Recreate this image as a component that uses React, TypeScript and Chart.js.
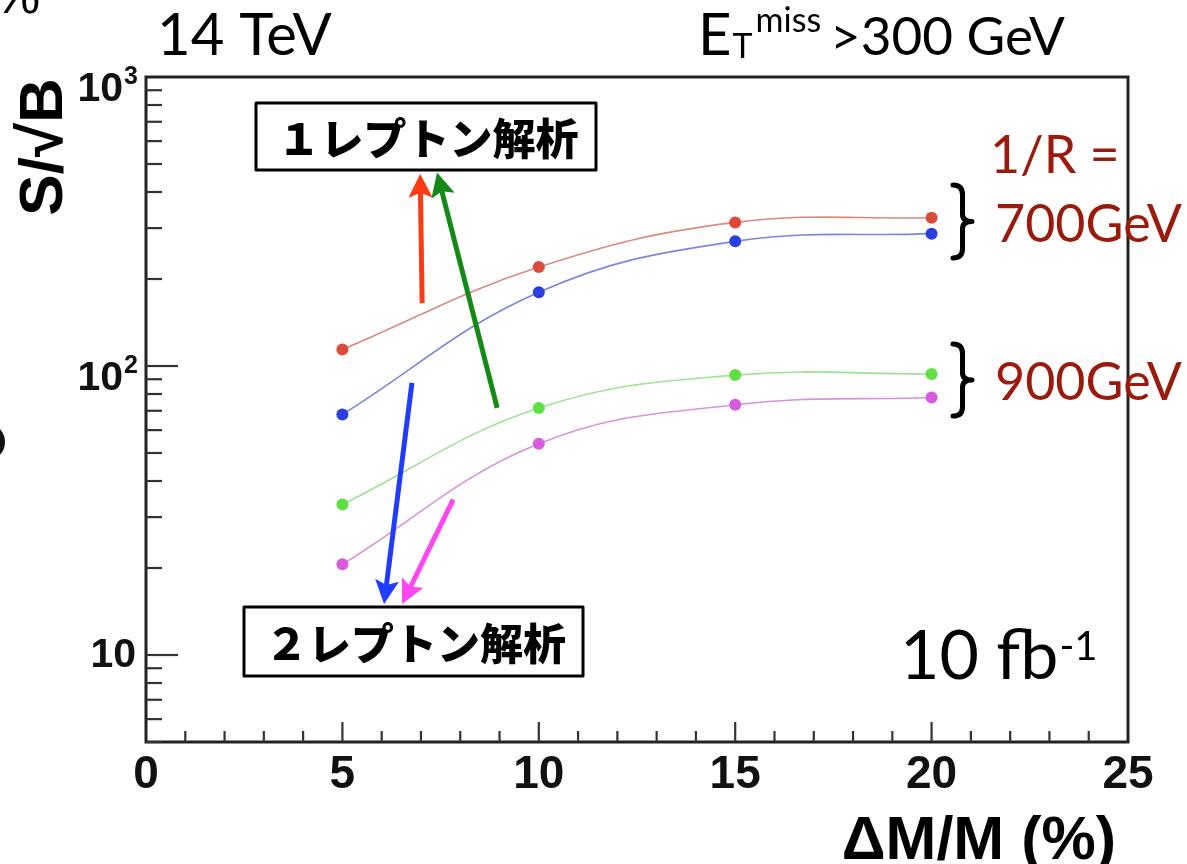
import React, { useEffect, useRef } from "react";
import { Chart, registerables } from "chart.js";

Chart.register(...registerables);

// ---- data ----
const xValues = [5, 10, 15, 20];
const red700 = [114, 220, 314, 326];
const blue700 = [68, 180, 270, 287];
const green900 = [33.2, 71.5, 93, 93.8];
const magenta900 = [20.6, 53.8, 73.4, 77.8];

const xMin = 0;
const xMax = 25;
const yMin = 5;
const yMax = 1000;
const xMajorTicks = [0, 5, 10, 15, 20, 25];
const xTickLabels = ["0", "5", "10", "15", "20", "25"];
const yMajorTicks = [10, 100, 1000];
const yTickBases = ["10", "10", "10"];
const yTickExps = ["", "2", "3"];

// annotation arrows in data coordinates [x, y]
const arrowFrom = [[7.03, 165], [8.94, 71.7], [6.77, 87.4], [7.82, 34.5]];
const arrowTo = [[6.98, 463], [7.41, 467], [6.06, 15.0], [6.52, 15.0]];
const arrowColors = ["#ff3a12", "#148a16", "#1f3cff", "#ff46f2"];

const pointColors = ["#dc4a3c", "#2b3fe0", "#5ee040", "#da5ade"];
const lineColors = ["#dc8a80", "#7d86dc", "#9de394", "#d991dc"];

function makeSet(label: string, vals: number[], i: number) {
  return {
    label,
    data: xValues.map((x, k) => ({ x, y: vals[k] })),
    borderColor: lineColors[i],
    backgroundColor: pointColors[i],
    pointBackgroundColor: pointColors[i],
    pointBorderWidth: 0,
    pointRadius: 6,
    borderWidth: 1.6,
    tension: 0.4,
    fill: false,
  };
}

function drawBrace(ctx: CanvasRenderingContext2D, x0: number, yTop: number, yBot: number, w: number) {
  const h = yBot - yTop;
  const ym = (yTop + yBot) / 2;
  const xm = x0 + w * 0.5;
  ctx.beginPath();
  ctx.moveTo(x0, yTop);
  ctx.quadraticCurveTo(xm, yTop, xm, yTop + h * 0.13);
  ctx.lineTo(xm, ym - h * 0.1);
  ctx.quadraticCurveTo(xm, ym, x0 + w, ym);
  ctx.quadraticCurveTo(xm, ym, xm, ym + h * 0.1);
  ctx.lineTo(xm, yBot - h * 0.13);
  ctx.quadraticCurveTo(xm, yBot, x0, yBot);
  ctx.stroke();
}

const decor = {
  id: "decor",
  afterDraw(chart: any) {
    const ctx: CanvasRenderingContext2D = chart.ctx;
    const a = chart.chartArea;
    const xs = chart.scales.x;
    const ys = chart.scales.y;
    ctx.save();

    // frame
    ctx.strokeStyle = "#222";
    ctx.lineWidth = 3;
    ctx.strokeRect(a.left, a.top, a.right - a.left, a.bottom - a.top);

    // y ticks
    ctx.lineWidth = 2.2;
    ctx.strokeStyle = "#333";
    for (let d = 1; d <= 100; d *= 10) {
      for (let m = 1; m <= 9; m++) {
        const v = m * d;
        if (v < yMin || v >= yMax) continue;
        const py = ys.getPixelForValue(v);
        const len = m === 1 ? 32 : 16;
        ctx.beginPath();
        ctx.moveTo(a.left, py);
        ctx.lineTo(a.left + len, py);
        ctx.stroke();
      }
    }
    // x ticks
    for (let v = xMin + 1; v < xMax; v++) {
      const px = xs.getPixelForValue(v);
      const len = v % 5 === 0 ? 20 : 11;
      ctx.beginPath();
      ctx.moveTo(px, a.bottom);
      ctx.lineTo(px, a.bottom - len);
      ctx.stroke();
    }

    // x tick labels
    ctx.fillStyle = "#111";
    ctx.font = "bold 46px 'Liberation Sans', Arial, sans-serif";
    ctx.textAlign = "center";
    ctx.textBaseline = "alphabetic";
    xMajorTicks.forEach((v, i) => {
      ctx.fillText(xTickLabels[i], xs.getPixelForValue(v), a.bottom + 46);
    });

    // y tick labels
    yMajorTicks.forEach((v, i) => {
      const py = ys.getPixelForValue(v);
      ctx.textAlign = "right";
      if (yTickExps[i] === "") {
        ctx.font = "bold 41px 'Liberation Sans', Arial, sans-serif";
        ctx.fillText(yTickBases[i], a.left - 10, py + 12);
      } else {
        ctx.font = "bold 25px 'Liberation Sans', Arial, sans-serif";
        ctx.fillText(yTickExps[i], a.left - 8, py + 7);
        const ew = ctx.measureText(yTickExps[i]).width;
        ctx.font = "bold 41px 'Liberation Sans', Arial, sans-serif";
        ctx.fillText(yTickBases[i], a.left - 9 - ew, py + 24);
      }
    });

    // axis titles
    ctx.save();
    ctx.translate(62, 147);
    ctx.rotate(-Math.PI / 2);
    ctx.textAlign = "center";
    ctx.font = "bold 62px 'Liberation Sans', Arial, sans-serif";
    ctx.fillStyle = "#000";
    ctx.fillText("S/\u221AB", 0, 0);
    ctx.restore();

    ctx.textAlign = "right";
    ctx.font = "bold 61px 'Liberation Sans', Arial, sans-serif";
    ctx.fillStyle = "#000";
    ctx.fillText("\u0394M/M (%)", 1116, 859);

    // left-edge fragments
    ctx.textAlign = "left";
    ctx.font = "52px 'Liberation Sans', Arial, sans-serif";
    ctx.fillText("%", -6, 13);
    ctx.beginPath();
    ctx.lineWidth = 6;
    ctx.strokeStyle = "#111";
    ctx.ellipse(-8, 442, 10, 13, 0, -Math.PI / 2, Math.PI / 2);
    ctx.stroke();

    // top labels
    ctx.fillStyle = "#000";
    ctx.textAlign = "left";
    ctx.font = "58px Lato, 'Noto Sans', sans-serif";
    ctx.fillText("14 TeV", 157, 55);
    let cx = 698;
    ctx.fillText("E", cx, 55);
    cx += ctx.measureText("E").width + 1;
    ctx.font = "34px Lato, 'Noto Sans', sans-serif";
    ctx.fillText("T", cx, 58);
    cx += ctx.measureText("T").width + 3;
    ctx.fillText("miss", cx, 32);
    ctx.font = "53px Lato, 'Noto Sans', sans-serif";
    ctx.fillText(">300 GeV", 830, 55);

    // 10 fb-1
    ctx.textAlign = "left";
    ctx.font = "68px Lato, 'Noto Sans', sans-serif";
    ctx.fillText("10 fb", 900, 679);
    const fw = ctx.measureText("10 fb").width;
    ctx.font = "40px Lato, 'Noto Sans', sans-serif";
    ctx.fillText("-1", 900 + fw + 1, 660);

    // 1/R labels
    ctx.fillStyle = "#9a1b0c";
    ctx.font = "52px Lato, 'Noto Sans', sans-serif";
    ctx.fillText("1/R =", 990, 173);
    ctx.fillText("700GeV", 995, 242);
    ctx.fillText("900GeV", 995, 400);

    // braces
    ctx.strokeStyle = "#000";
    ctx.lineWidth = 5;
    ctx.lineCap = "round";
    ctx.lineJoin = "round";
    drawBrace(ctx, 953, 185, 258, 19);
    drawBrace(ctx, 953, 344, 416, 19);

    // arrows
    arrowFrom.forEach((f, i) => {
      const x1 = xs.getPixelForValue(f[0]);
      const y1 = ys.getPixelForValue(f[1]);
      const x2 = xs.getPixelForValue(arrowTo[i][0]);
      const y2 = ys.getPixelForValue(arrowTo[i][1]);
      const ang = Math.atan2(y2 - y1, x2 - x1);
      const hl = 24;
      const hw = 12;
      const bx = x2 - Math.cos(ang) * hl * 0.8;
      const by = y2 - Math.sin(ang) * hl * 0.8;
      ctx.strokeStyle = arrowColors[i];
      ctx.fillStyle = arrowColors[i];
      ctx.lineWidth = 5;
      ctx.lineCap = "butt";
      ctx.beginPath();
      ctx.moveTo(x1, y1);
      ctx.lineTo(bx, by);
      ctx.stroke();
      const px = -Math.sin(ang);
      const py = Math.cos(ang);
      const hx = x2 - Math.cos(ang) * hl;
      const hy = y2 - Math.sin(ang) * hl;
      ctx.beginPath();
      ctx.moveTo(x2, y2);
      ctx.lineTo(hx + px * hw, hy + py * hw);
      ctx.lineTo(bx, by);
      ctx.lineTo(hx - px * hw, hy - py * hw);
      ctx.closePath();
      ctx.fill();
    });

    // boxes
    const boxes = [
      { x: 256, y: 103, w: 340, h: 67, t: "\uFF11\u30EC\u30D7\u30C8\u30F3\u89E3\u6790" },
      { x: 244, y: 607, w: 339, h: 69, t: "\uFF12\u30EC\u30D7\u30C8\u30F3\u89E3\u6790" },
    ];
    boxes.forEach((b) => {
      ctx.fillStyle = "#fff";
      ctx.fillRect(b.x, b.y, b.w, b.h);
      ctx.strokeStyle = "#000";
      ctx.lineWidth = 3;
      ctx.strokeRect(b.x, b.y, b.w, b.h);
      ctx.fillStyle = "#000";
      ctx.font = "900 43px 'Noto Sans CJK JP', sans-serif";
      ctx.textAlign = "center";
      ctx.textBaseline = "middle";
      ctx.fillText(b.t, b.x + b.w / 2 + 2, b.y + b.h / 2 + 2);
      ctx.textBaseline = "alphabetic";
    });

    ctx.restore();
  },
};

export default function App() {
  const ref = useRef<HTMLCanvasElement>(null);
  useEffect(() => {
    if (!ref.current) return;
    const chart = new Chart(ref.current, {
      type: "line",
      data: {
        datasets: [
          makeSet("1/R=700GeV, 1 lepton", red700, 0),
          makeSet("1/R=700GeV, 2 leptons", blue700, 1),
          makeSet("1/R=900GeV, 1 lepton", green900, 2),
          makeSet("1/R=900GeV, 2 leptons", magenta900, 3),
        ],
      },
      options: {
        responsive: false,
        animation: false,
        devicePixelRatio: 1,
        layout: { padding: { left: 146, top: 77, right: 59, bottom: 122 } },
        scales: {
          x: { type: "linear", min: xMin, max: xMax, display: false },
          y: { type: "logarithmic", min: yMin, max: yMax, display: false },
        },
        plugins: { legend: { display: false }, tooltip: { enabled: false } },
      },
      plugins: [decor],
    } as any);
    return () => chart.destroy();
  }, []);
  return (
    <div style={{ position: "fixed", left: 0, top: 0, width: 1187, height: 864, background: "#fff" }}>
      <canvas ref={ref} width={1187} height={864} style={{ width: 1187, height: 864, display: "block" }} />
    </div>
  );
}
